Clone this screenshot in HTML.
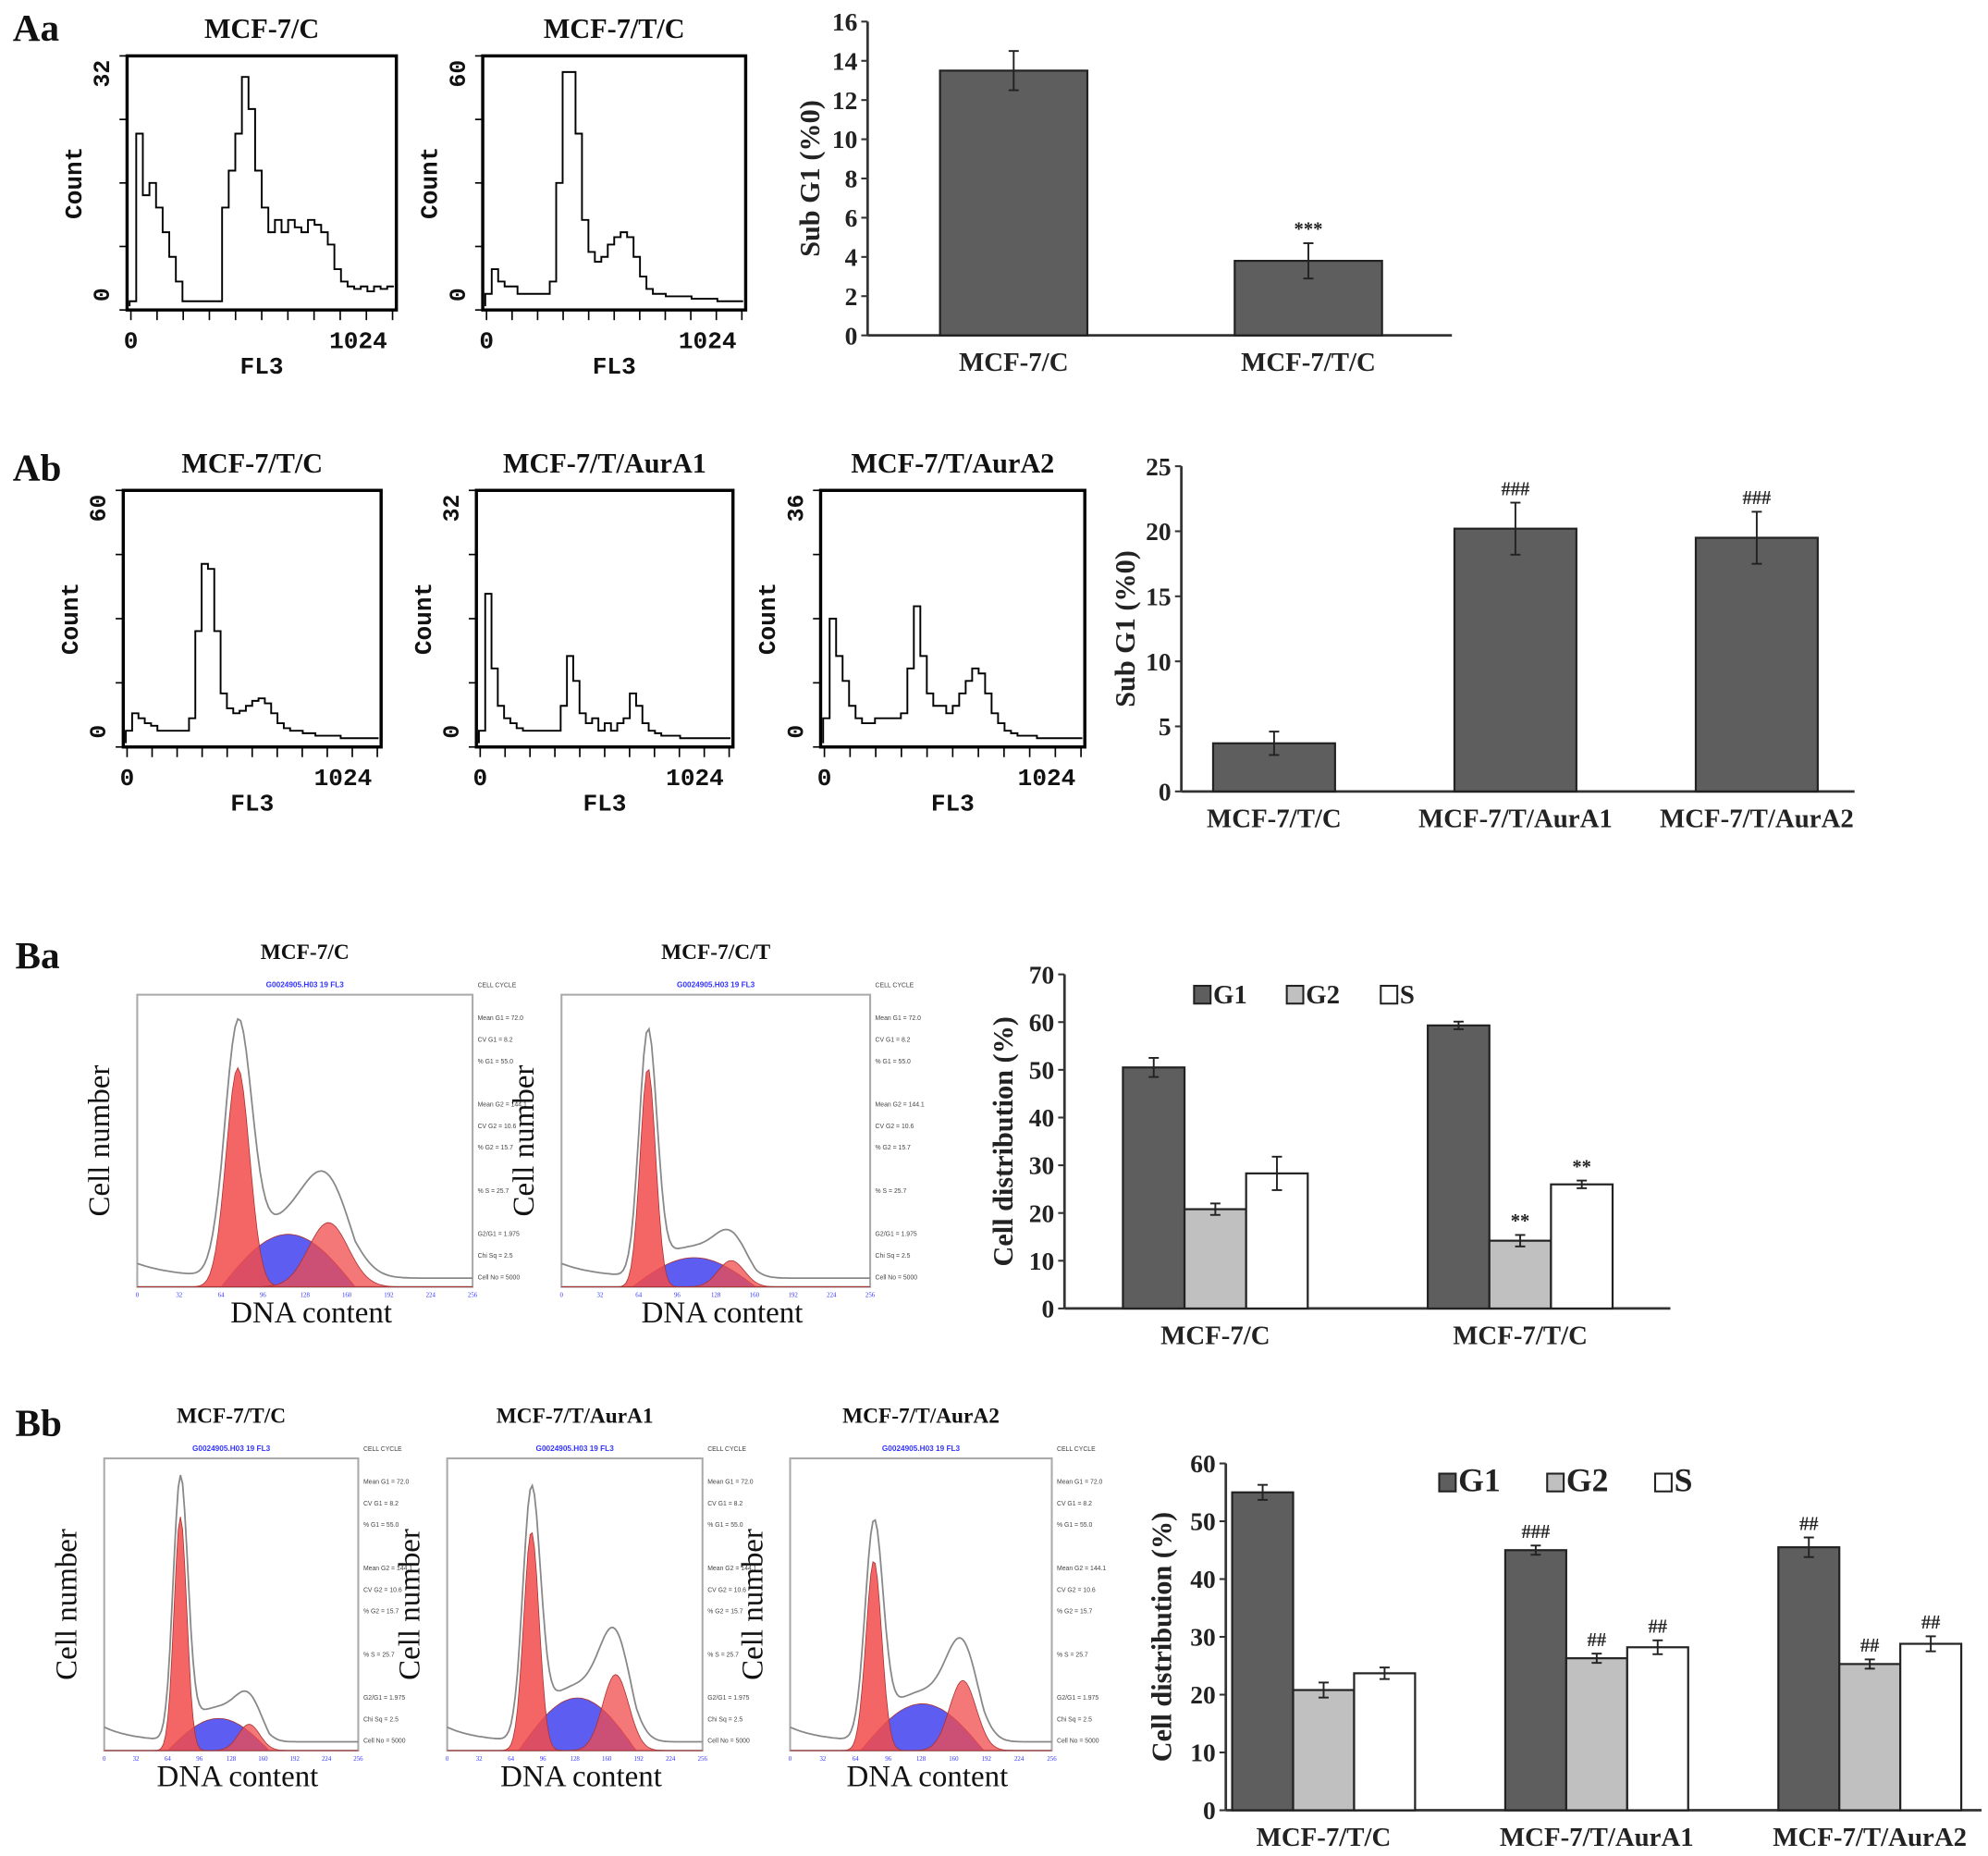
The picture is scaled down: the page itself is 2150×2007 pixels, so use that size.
<!DOCTYPE html>
<html><head><meta charset="utf-8">
<style>
html,body{margin:0;padding:0;background:#fff;}
svg{display:block;}
.t{font-family:"Liberation Serif",serif;font-weight:bold;}
.m{font-family:"Liberation Mono",monospace;font-weight:bold;}
</style></head>
<body>
<svg id="fig" xmlns="http://www.w3.org/2000/svg" width="2150" height="2007" viewBox="0 0 1565 1461">
<rect width="1565" height="1461" fill="#fff"/>
<g class="t" font-size="30" fill="#111">
<text x="10" y="32">Aa</text>
<text x="10" y="378">Ab</text>
<text x="12" y="762">Ba</text>
<text x="12" y="1130">Bb</text>
</g>
<g id="root"></g>
</svg>
<script>
// ---------- data ----------
const histAa1 = [0.02,0.7,0.45,0.5,0.4,0.3,0.2,0.1,0.02,0.02,0.02,0.02,0.02,0.02,0.4,0.55,0.7,0.93,0.8,0.55,0.4,0.3,0.35,0.3,0.35,0.32,0.3,0.35,0.33,0.3,0.25,0.15,0.1,0.08,0.07,0.08,0.06,0.08,0.07,0.08];
const histAa2 = [0.05,0.15,0.1,0.08,0.08,0.05,0.05,0.05,0.05,0.05,0.1,0.5,0.95,0.95,0.7,0.35,0.22,0.18,0.2,0.25,0.28,0.3,0.28,0.2,0.12,0.07,0.05,0.05,0.04,0.04,0.04,0.04,0.03,0.03,0.03,0.03,0.02,0.02,0.02,0.02];
const histAb1 = [0.05,0.12,0.1,0.08,0.07,0.05,0.05,0.05,0.05,0.05,0.1,0.45,0.72,0.7,0.45,0.2,0.14,0.12,0.13,0.15,0.17,0.18,0.16,0.12,0.08,0.06,0.05,0.05,0.04,0.04,0.03,0.03,0.03,0.03,0.02,0.02,0.02,0.02,0.02,0.02];
const histAb2 = [0.05,0.6,0.3,0.15,0.1,0.08,0.06,0.05,0.05,0.05,0.05,0.05,0.05,0.15,0.35,0.25,0.12,0.08,0.1,0.05,0.08,0.05,0.08,0.1,0.2,0.15,0.08,0.05,0.04,0.03,0.03,0.03,0.02,0.02,0.02,0.02,0.02,0.02,0.02,0.02];
const histAb3 = [0.1,0.5,0.35,0.25,0.15,0.1,0.08,0.08,0.1,0.1,0.1,0.1,0.12,0.3,0.55,0.35,0.2,0.15,0.15,0.12,0.15,0.2,0.25,0.3,0.28,0.2,0.12,0.08,0.05,0.04,0.03,0.03,0.03,0.02,0.02,0.02,0.02,0.02,0.02,0.02];

const catsAa = ["MCF-7/C","MCF-7/T/C"];
const valsAa = [13.5,3.8];
const errAa = [1.0,0.9];
const markAa = ["","***"];
const ticksAa = [0,2,4,6,8,10,12,14,16];

const catsAb = ["MCF-7/T/C","MCF-7/T/AurA1","MCF-7/T/AurA2"];
const valsAb = [3.7,20.2,19.5];
const errAb = [0.9,2.0,2.0];
const markAb = ["","###","###"];
const ticksAb = [0,5,10,15,20,25];

const series = ["G1","G2","S"];
const catsBa = ["MCF-7/C","MCF-7/T/C"];
const g1Ba = [50.5,59.3], g2Ba = [20.8,14.2], sBa = [28.3,26.0];
const eg1Ba = [2.0,0.8], eg2Ba = [1.2,1.2], esBa = [3.5,0.8];
const mkBa = [["","",""],["","**","**"]];
const ticksBa = [0,10,20,30,40,50,60,70];

const catsBb = ["MCF-7/T/C","MCF-7/T/AurA1","MCF-7/T/AurA2"];
const g1Bb = [55.0,45.0,45.5], g2Bb = [20.8,26.3,25.3], sBb = [23.7,28.2,28.8];
const eg1Bb = [1.3,0.8,1.7], eg2Bb = [1.3,0.8,0.8], esBb = [1.0,1.2,1.3];
const mkBb = [["","",""],["###","##","##"],["##","##","##"]];
const ticksBb = [0,10,20,30,40,50,60];

// cell cycle model peaks: [G1 pos, G1 height, G1 width, S height, G2 pos, G2 height]
const ccBa1 = [0.30,0.75,0.035,0.18,0.57,0.22];
const ccBa2 = [0.28,0.75,0.025,0.10,0.55,0.09];
const ccBb1 = [0.30,0.80,0.025,0.11,0.57,0.09];
const ccBb2 = [0.33,0.75,0.03,0.18,0.66,0.26];
const ccBb3 = [0.32,0.65,0.03,0.16,0.66,0.24];

// ---------- helpers ----------
const NS="http://www.w3.org/2000/svg";
const root=document.getElementById('root');
function mk(tag,attrs,parent,txt){const e=document.createElementNS(NS,tag);for(const k in attrs)e.setAttribute(k,attrs[k]);if(txt!==undefined)e.textContent=txt;(parent||root).appendChild(e);return e;}

function histogram(x0,y0,w,h,data,title,ymax,name){
  const g=mk('g',{});
  
  
  mk('text',{x:x0+w/2,y:y0-14,'text-anchor':'middle','font-size':22,class:'t',fill:'#111'},g,title);
  mk('rect',{x:x0,y:y0,width:w,height:h,fill:'none',stroke:'#000','stroke-width':2.5},g);
  const xs=i=>x0+2+(w-4)*i/data.length;
  const ys=v=>y0+h-3-v*(h-6);
  let d='M'+xs(0)+','+ys(0);
  data.forEach((v,i)=>{d+=' L'+xs(i)+','+ys(v)+' L'+xs(i+1)+','+ys(v);});
  const p=mk('path',{d:d,fill:'none',stroke:'#000','stroke-width':1.4},g);
  
  
  for(let i=0;i<=10;i++){mk('line',{x1:x0+3+i*(w-6)/10,y1:y0+h,x2:x0+3+i*(w-6)/10,y2:y0+h+8,stroke:'#000','stroke-width':1.2},g);}
  for(let i=0;i<=4;i++){mk('line',{x1:x0-6,y1:y0+h-i*h/4,x2:x0,y2:y0+h-i*h/4,stroke:'#000','stroke-width':1.2},g);}
  const tx=x0-14;
  mk('text',{transform:`translate(${tx},${y0+14}) rotate(-90)`,'text-anchor':'middle','font-size':18,class:'m',fill:'#111'},g,ymax);
  mk('text',{transform:`translate(${tx},${y0+h-12}) rotate(-90)`,'text-anchor':'middle','font-size':18,class:'m',fill:'#111'},g,'0');
  mk('text',{transform:`translate(${x0-36},${y0+h/2}) rotate(-90)`,'text-anchor':'middle','font-size':19,class:'m',fill:'#111'},g,'Count');
  mk('text',{x:x0+3,y:y0+h+30,'text-anchor':'middle','font-size':19,class:'m',fill:'#111'},g,'0');
  mk('text',{x:x0+w-30,y:y0+h+30,'text-anchor':'middle','font-size':19,class:'m',fill:'#111'},g,'1024');
  mk('text',{x:x0+w/2,y:y0+h+50,'text-anchor':'middle','font-size':19,class:'m',fill:'#111'},g,'FL3');
}

function cellcycle(x0,y0,w,h,p,title,name){
  const g=mk('g',{});
  
  
  mk('text',{x:x0+w/2,y:y0-28,'text-anchor':'middle','font-size':17,class:'t',fill:'#111'},g,title);
  mk('text',{x:x0+w/2,y:y0-6,'text-anchor':'middle','font-size':6,'font-family':'Liberation Sans',fill:'#33f','font-weight':'bold'},g,'G0024905.H03 19  FL3');
  mk('rect',{x:x0,y:y0,width:w,height:h,fill:'none',stroke:'#aaa','stroke-width':1.5},g);
  const X=t=>x0+t*w, Y=v=>y0+h-v*h;
  const gauss=(t,m,s,a)=>a*Math.exp(-((t-m)*(t-m))/(2*s*s));
  const N=120;
  function area(fn,fill,op){let d='M'+X(0)+','+Y(0);for(let i=0;i<=N;i++){const t=i/N;d+=' L'+X(t).toFixed(1)+','+Y(fn(t)).toFixed(1);}d+=' L'+X(1)+','+Y(0)+'Z';mk('path',{d:d,fill:fill,'fill-opacity':op,stroke:'#a33','stroke-width':0.6},g);}
  const sfn=t=>(t>p[0]-0.05&&t<p[4]+0.08)?p[3]*Math.sin(Math.PI*(t-(p[0]-0.05))/(p[4]-p[0]+0.13)):0;
  area(sfn,'#4b4bf0',0.9);
  area(t=>gauss(t,p[0],p[2],p[1]),'#f24b4b',0.85);
  area(t=>gauss(t,p[4],p[2]*1.7,p[5]),'#f24b4b',0.75);
  let d='';
  for(let i=0;i<=N;i++){const t=i/N;const v=gauss(t,p[0],p[2]*1.15,p[1]*1.08)+sfn(t)*1.05+gauss(t,p[4],p[2]*2,p[5]*1.1)+0.03+0.05*Math.exp(-t*8);d+=(i?' L':'M')+X(t).toFixed(1)+','+Y(v).toFixed(1);}
  mk('path',{d:d,fill:'none',stroke:'#888','stroke-width':1.3},g);
  for(let i=0;i<=8;i++)mk('text',{x:x0+i*w/8,y:y0+h+8,'font-size':5,'text-anchor':'middle',fill:'#33f'},g,String(i*32));
  ['Mean G1 = 72.0','CV G1 = 8.2','% G1 = 55.0','','Mean G2 = 144.1','CV G2 = 10.6','% G2 = 15.7','','% S = 25.7','','G2/G1 = 1.975','Chi Sq = 2.5','Cell No = 5000'].forEach((s,i)=>{if(s)mk('text',{x:x0+w+4,y:y0+20+i*17,'font-size':5,'font-family':'Liberation Sans',fill:'#444'},g,s);});
  mk('text',{x:x0+w+4,y:y0-6,'font-size':5,'font-family':'Liberation Sans',fill:'#444'},g,'CELL CYCLE');
  mk('text',{transform:`translate(${x0-22},${y0+h/2}) rotate(-90)`,'text-anchor':'middle','font-size':24,'font-family':'Liberation Serif',fill:'#111'},g,'Cell number');
  mk('text',{x:x0+w/2+5,y:y0+h+28,'text-anchor':'middle','font-size':24,'font-family':'Liberation Serif',fill:'#111'},g,'DNA content');
}

function barChart(o){
  const g=mk('g',{});
  
  
  const Y=v=>o.y0-(v/o.max)*(o.y0-o.y1);
  mk('line',{x1:o.ax,y1:o.y1,x2:o.ax,y2:o.y0,stroke:'#333','stroke-width':2},g);
  mk('line',{x1:o.ax,y1:o.y0,x2:o.xend,y2:o.y0,stroke:'#333','stroke-width':2},g);
  o.ticks.forEach(t=>{mk('line',{x1:o.ax-5,y1:Y(t),x2:o.ax,y2:Y(t),stroke:'#333','stroke-width':1.5},g);
    const tl=mk('text',{x:o.ax-8,y:Y(t)+7,'text-anchor':'end','font-size':20,class:'t',fill:'#222'},g,String(t));
    
    });
  const yt=mk('text',{transform:`translate(${o.ytx},${(o.y0+o.y1)/2}) rotate(-90)`,'text-anchor':'middle','font-size':22,class:'t',fill:'#222'},g,o.ytitle);
  
  
  const fills=['#5e5e5e','#c0c0c0','#ffffff'];
  o.cats.forEach((c,ci)=>{
    const gx=o.gx0+ci*o.gstep;
    o.vals.forEach((arr,si)=>{
      const bx=gx+si*o.bw, v=arr[ci], e=o.errs[si][ci];
      const r=mk('rect',{x:bx,y:Y(v),width:o.bw,height:o.y0-Y(v),fill:o.vals.length===1?'#5e5e5e':fills[si],stroke:'#222','stroke-width':1.6},g);
      
      
      const cx=bx+o.bw/2;
      mk('line',{x1:cx,y1:Y(v+e),x2:cx,y2:Y(v-e),stroke:'#222','stroke-width':1.4},g);
      mk('line',{x1:cx-4,y1:Y(v+e),x2:cx+4,y2:Y(v+e),stroke:'#222','stroke-width':1.4},g);
      mk('line',{x1:cx-4,y1:Y(v-e),x2:cx+4,y2:Y(v-e),stroke:'#222','stroke-width':1.4},g);
      const m=o.marks[ci][si];
      if(m)mk('text',{x:cx,y:Y(v+e)-6,'text-anchor':'middle','font-size':15,class:'t',fill:'#222'},g,m);
    });
    const lab=mk('text',{x:gx+o.vals.length*o.bw/2,y:o.y0+o.laby,'text-anchor':'middle','font-size':21,class:'t',fill:'#222'},g,c);
    
    
  });
  if(o.series){o.series.forEach((s,si)=>{
    const lx=o.legx[si];
    mk('rect',{x:lx,y:o.legy-14,width:13,height:14,fill:fills[si],stroke:'#222','stroke-width':1.5},g);
    const lt=mk('text',{x:lx+15,y:o.legy,'font-size':o.legfs,class:'t',fill:'#222'},g,s);
    
    
  });}
}

// ---------- Aa ----------
histogram(100,44,212,200,histAa1,'MCF-7/C','32','histogram-aa-mcf7-c');
histogram(380,44,207,200,histAa2,'MCF-7/T/C','60','histogram-aa-mcf7-t-c');
barChart({name:'bar-chart-aa',ax:683,y0:264,y1:17,max:16,xend:1143,ticks:ticksAa,ytx:645,ytitle:'Sub G1 (%0)',
  cats:catsAa,vals:[valsAa],errs:[errAa],marks:[[markAa[0]],[markAa[1]]],gx0:740,gstep:232,bw:116,laby:28});
// ---------- Ab ----------
histogram(97,386,203,202,histAb1,'MCF-7/T/C','60','histogram-ab-mcf7-t-c');
histogram(375,386,202,202,histAb2,'MCF-7/T/AurA1','32','histogram-ab-aura1');
histogram(646,386,208,202,histAb3,'MCF-7/T/AurA2','36','histogram-ab-aura2');
barChart({name:'bar-chart-ab',ax:930,y0:623,y1:367,max:25,xend:1460,ticks:ticksAb,ytx:893,ytitle:'Sub G1 (%0)',
  cats:catsAb,vals:[valsAb],errs:[errAb],marks:[[markAb[0]],[markAb[1]],[markAb[2]]],gx0:955,gstep:190,bw:96,laby:28});
// ---------- Ba ----------
cellcycle(108,783,264,230,ccBa1,'MCF-7/C','cell-cycle-ba-mcf7-c');
cellcycle(442,783,243,230,ccBa2,'MCF-7/C/T','cell-cycle-ba-mcf7-c-t');
barChart({name:'bar-chart-ba',ax:838,y0:1030,y1:767,max:70,xend:1315,ticks:ticksBa,ytx:797,ytitle:'Cell distribution (%)',
  cats:catsBa,vals:[g1Ba,g2Ba,sBa],errs:[eg1Ba,eg2Ba,esBa],marks:mkBa,series:series,gx0:884,gstep:240,bw:48.5,laby:28,
  legx:[940,1013,1087],legy:790,legfs:21});
// ---------- Bb ----------
cellcycle(82,1148,200,230,ccBb1,'MCF-7/T/C','cell-cycle-bb-mcf7-t-c');
cellcycle(352,1148,201,230,ccBb2,'MCF-7/T/AurA1','cell-cycle-bb-aura1');
cellcycle(622,1148,206,230,ccBb3,'MCF-7/T/AurA2','cell-cycle-bb-aura2');
barChart({name:'bar-chart-bb',ax:965,y0:1425,y1:1152,max:60,xend:1560,ticks:ticksBb,ytx:922,ytitle:'Cell distribution (%)',
  cats:catsBb,vals:[g1Bb,g2Bb,sBb],errs:[eg1Bb,eg2Bb,esBb],marks:mkBb,series:series,gx0:970,gstep:215,bw:48,laby:28,
  legx:[1133,1218,1303],legy:1174,legfs:26});
</script>
</body></html>
